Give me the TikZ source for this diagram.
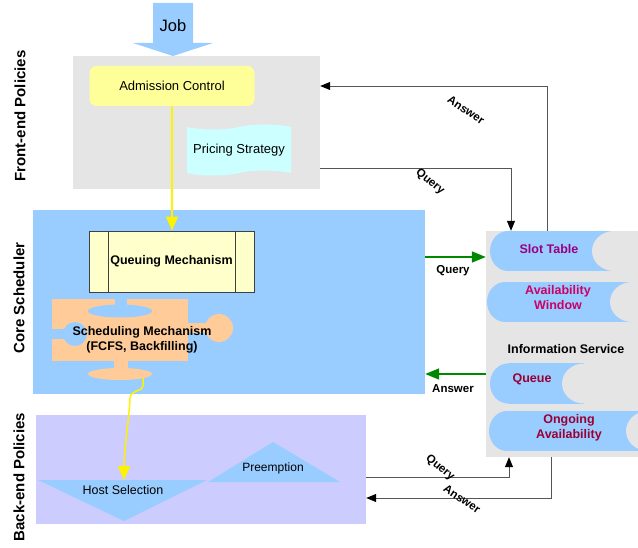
\documentclass[tikz,border=0pt]{standalone}
\usepackage{fontspec}
\setmainfont{Liberation Sans}
\usetikzlibrary{arrows.meta,shapes.symbols,positioning}

\definecolor{jobblue}{HTML}{99CCFF}
\definecolor{panelgray}{HTML}{E5E5E5}
\definecolor{backlilac}{HTML}{CCCCFF}
\definecolor{admyellow}{HTML}{FFFF99}
\definecolor{queuecream}{HTML}{FFFFCC}
\definecolor{pricecyan}{HTML}{CCFFFF}
\definecolor{puzzlepeach}{HTML}{FFCC99}
\definecolor{slotpurple}{HTML}{990080}
\definecolor{availred}{HTML}{CC0066}
\definecolor{queuered}{HTML}{990033}
\definecolor{linkgray}{HTML}{555555}
\definecolor{linkgreen}{HTML}{008800}

\begin{document}
\begin{tikzpicture}[
  x=1pt, y=-1pt,
  area/.style={rectangle, inner sep=0pt, draw=none},
  txt/.style={font=\fontsize{13}{15}\selectfont, align=center},
  btxt/.style={font=\bfseries\fontsize{12.5}{15}\selectfont, align=center},
  ltxt/.style={font=\bfseries\fontsize{11.5}{13}\selectfont, inner sep=1pt},
  side/.style={font=\bfseries\fontsize{15}{17}\selectfont, rotate=90},
  wire/.style={draw=linkgray, line width=0.9pt,
               -{Triangle[length=10pt, width=8pt, color=black]}},
  greenwire/.style={draw=linkgreen, line width=1.6pt,
               -{Triangle[length=14pt, width=11pt]}},
  yellowwire/.style={draw=yellow, line width=1.5pt,
               -{Triangle[length=14pt, width=12pt]}},
]
  \useasboundingbox (0,0) rectangle (638,548);

  % Front-end policies
  \node[area, fill=panelgray, minimum width=247pt, minimum height=133pt] (front) at (196.5,122.5) {};
  \node[txt, fill=admyellow, rounded corners=7pt, minimum width=165pt, minimum height=40pt] (admission) at (172,86) {Admission Control};
  \node[txt, tape, fill=pricecyan, minimum width=104pt, minimum height=51pt, inner sep=0pt] (pricing) at (239,150) {Pricing Strategy};

  % incoming job
  \fill[jobblue] (153,3) -- (193,3) -- (193,43) -- (213,43) -- (173,56) -- (133,43) -- (153,43) -- cycle;
  \node[txt, font=\fontsize{16.5}{18}\selectfont] (job) at (173,26) {Job};

  % Core scheduler
  \node[area, fill=jobblue, minimum width=392pt, minimum height=184pt] (core) at (229,302) {};
  \node[btxt, fill=queuecream, draw=darkgray, line width=0.8pt, minimum width=165pt, minimum height=61pt] (queuing) at (171.5,261.5) {Queuing Mechanism};
  \draw[darkgray, line width=0.8pt] ([xshift=20pt]queuing.north west) -- ([xshift=20pt]queuing.south west);
  \draw[darkgray, line width=0.8pt] ([xshift=-19pt]queuing.north east) -- ([xshift=-19pt]queuing.south east);

  % puzzle piece
  \fill[puzzlepeach] (52,299) rectangle (188,361);
  \fill[puzzlepeach] (187,323) rectangle (207,333);
  \fill[puzzlepeach] (219,328) circle (14);
  \fill[puzzlepeach] (114,360) rectangle (128,370);
  \fill[puzzlepeach] (120,374) ellipse (32 and 6);
  \fill[jobblue] (115,298) rectangle (127,307);
  \fill[jobblue] (120,311) ellipse (32 and 6.5);
  \fill[jobblue] (51,329) rectangle (70,339);
  \fill[jobblue] (75,334) circle (12);
  \node[btxt] (scheduling) at (142,340) {Scheduling Mechanism\\(FCFS, Backfilling)};
  \coordinate (schedout) at (143,378);

  % Back-end policies
  \node[area, fill=backlilac, minimum width=330pt, minimum height=109pt] (back) at (201,469.5) {};
  \fill[jobblue] (38,480) -- (207,480) -- (124,521) -- cycle;
  \fill[jobblue] (208,482) -- (340,482) -- (273,442) -- cycle;
  \node[txt, font=\fontsize{12.5}{15}\selectfont] (host) at (123,490) {Host Selection};
  \node[txt, font=\fontsize{12}{15}\selectfont] (preemption) at (273,468) {Preemption};
  \coordinate (hosttop) at (124,480);

  % Information service
  \node[area, fill=panelgray, minimum width=152pt, minimum height=226pt] (info) at (562,344) {};
  \begin{scope}
    \clip (info.north west) rectangle (info.south east);
    \foreach \l/\f/\t/\b in {490/614/231/271, 487/632/282/322, 490/584/363/404, 489/648/411/451} {
      \fill[jobblue] (\l+18,{(\t+\b)/2}) ellipse (18 and 20);
      \fill[jobblue] (\l+18,\t) rectangle (\f,\b);
      \fill[panelgray] (\f,{(\t+\b)/2}) ellipse (22 and 20);
    }
  \end{scope}
  \node[btxt, text=slotpurple] (slot) at (549,249) {Slot Table};
  \node[btxt, text=availred] (availability) at (558,298) {Availability\\Window};
  \node[btxt] (infoservice) at (566,349) {Information Service};
  \node[btxt, text=queuered] (queue) at (532,379) {Queue};
  \node[btxt, text=queuered] (ongoing) at (569,428) {Ongoing\\Availability};

  % side titles
  \node[side] (frontlbl) at (20,116) {Front-end Policies};
  \node[side] (corelbl) at (19,298) {Core Scheduler};
  \node[side] (backlbl) at (19,477) {Back-end Policies};

  % job flow
  \draw[yellowwire] (admission.south) -- (admission.south |- queuing.north);
  \draw[yellowwire] (schedout) -- ++(0,8) .. controls (143,392) and (131,389) .. (130,398)
    .. controls (129,420) and (124,450) .. (hosttop);

  % queries and answers
  \draw[wire] ([yshift=-45.5pt]front.east) -| ([xshift=-51pt]info.north);
  \draw[wire] ([xshift=-15pt]info.north) |- ([yshift=36.5pt]front.east);
  \draw[wire] ([yshift=-7.5pt]back.east) -| ([xshift=-53pt]info.south);
  \draw[wire] ([xshift=-11pt]info.south) |- ([yshift=-28.5pt]back.east);
  \draw[greenwire] ([yshift=45pt]core.east) -- ([yshift=45pt]core.east -| info.west);
  \draw[greenwire] ([yshift=-72pt]core.east -| info.west) -- ([yshift=-72pt]core.east);

  \node[ltxt, rotate=-34] (answertop) at (466,110) {Answer};
  \node[ltxt, rotate=-40] (querytop) at (430,182) {Query};
  \node[ltxt] (querycore) at (453,271) {Query};
  \node[ltxt] (answercore) at (453,389) {Answer};
  \node[ltxt, rotate=-40] (queryback) at (440,468) {Query};
  \node[ltxt, rotate=-34] (answerback) at (462,499) {Answer};
\end{tikzpicture}
\end{document}
